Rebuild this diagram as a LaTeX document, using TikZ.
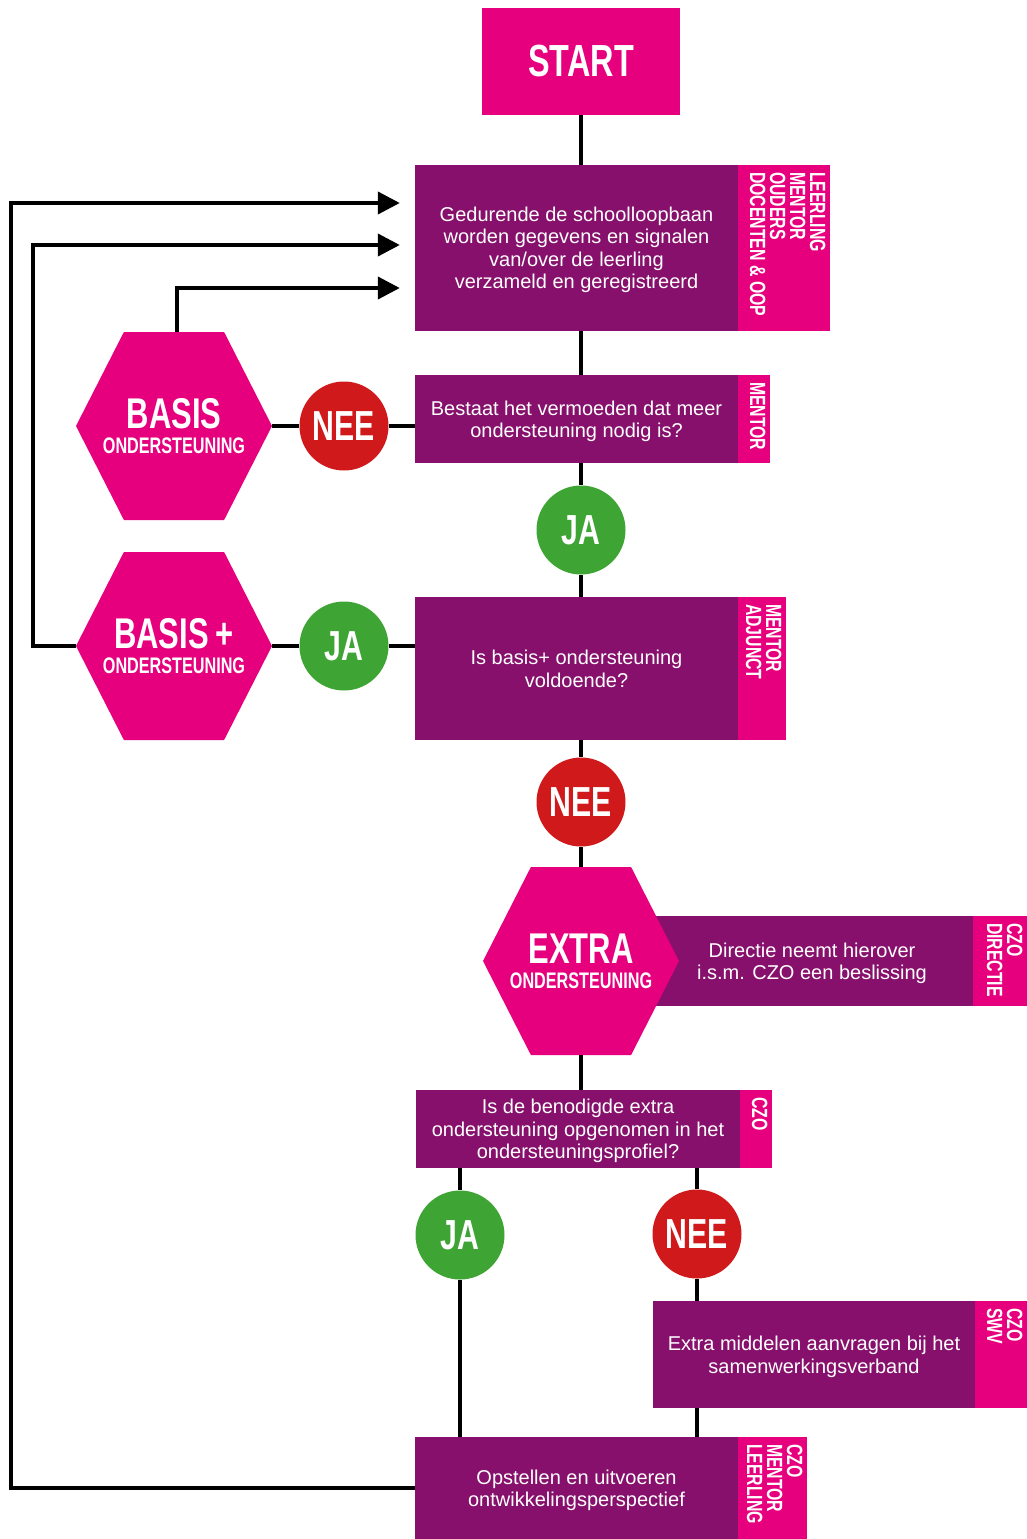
\documentclass[tikz,border=0pt]{standalone}
\usepackage{fontspec}
\usetikzlibrary{arrows.meta,shapes.symbols,calc}
\newfontfamily\bodyfont{Liberation Sans}
\newfontfamily\condfont{Liberation Sans}[FakeStretch=0.72]
\definecolor{rose}{HTML}{E6007E}
\definecolor{plum}{HTML}{86106C}
\definecolor{alarmred}{HTML}{D0191B}
\definecolor{leafgreen}{HTML}{3EA535}

\begin{document}
\begin{tikzpicture}[
  x=1pt,y=-1pt,
  block/.style={fill=plum,text=white,inner sep=0pt,align=center,text depth=0pt,
    font=\bodyfont\fontsize{20}{22.5}\selectfont},
  tab/.style={fill=rose,inner sep=0pt,anchor=north west},
  who/.style={text=white,inner sep=0pt,align=left,rotate=-90,anchor=north west,
    font=\condfont\bfseries\fontsize{22}{20}\selectfont},
  startbox/.style={fill=rose,text=white,inner sep=0pt,
    font=\condfont\bfseries\fontsize{45}{45}\selectfont},
  hexa/.style={signal,signal to=east and west,signal pointer angle=126,
    fill=rose,inner sep=0pt,minimum width=196pt,minimum height=188pt},
  hexlabel/.style={text=white,inner sep=0pt,align=center,
    font=\condfont\bfseries\fontsize{22.5}{25}\selectfont},
  answer/.style={circle,minimum size=89pt,inner sep=0pt,text=white,
    font=\condfont\bfseries\fontsize{42}{42}\selectfont},
  yes/.style={answer,fill=leafgreen},
  no/.style={answer,fill=alarmred},
  line/.style={line width=4pt},
  to/.style={line,-{Triangle[length=22pt,width=22pt]}}]

  \useasboundingbox (0,0) rectangle (1027,1539);

  % Main column of steps
  \node[startbox,minimum width=198pt,minimum height=107pt] (Start) at (581,61.5) {START};
  \node[block,minimum width=323pt,minimum height=166pt] (Collect) at (576.5,248)
    {Gedurende de schoolloopbaan\\worden gegevens en signalen\\van/over de leerling\\verzameld en geregistreerd};
  \node[block,minimum width=323pt,minimum height=88pt] (Suspect) at (576.5,419)
    {Bestaat het vermoeden dat meer\\ondersteuning nodig is?};
  \node[block,minimum width=323pt,minimum height=143pt] (Enough) at (576.5,668.5)
    {Is basis+ ondersteuning\\voldoende?};
  \node[block,minimum width=322pt,minimum height=90pt] (Decide) at (812,961)
    {Directie neemt hierover\\i.s.m. CZO een beslissing};
  \node[block,minimum width=324pt,minimum height=78pt] (Profile) at (578,1129)
    {Is de benodigde extra\\ondersteuning opgenomen in het\\ondersteuningsprofiel?};
  \node[block,minimum width=322pt,minimum height=107pt] (Apply) at (814,1354.5)
    {Extra middelen aanvragen bij het\\samenwerkingsverband};
  \node[block,minimum width=323pt,minimum height=102pt] (Plan) at (576.5,1488)
    {Opstellen en uitvoeren\\ontwikkelingsperspectief};

  % Who is involved
  \node[tab,minimum width=92pt,minimum height=166pt] (CollectTab) at (Collect.north east) {};
  \node[who] (CollectWho) at ($(CollectTab.north east)+(-5,7)$) {LEERLING\\MENTOR\\OUDERS\\DOCENTEN \& OOP};
  \node[tab,minimum width=32pt,minimum height=88pt] (SuspectTab) at (Suspect.north east) {};
  \node[who] (SuspectWho) at ($(SuspectTab.north east)+(-5,7)$) {MENTOR};
  \node[tab,minimum width=48pt,minimum height=143pt] (EnoughTab) at (Enough.north east) {};
  \node[who] (EnoughWho) at ($(EnoughTab.north east)+(-5,7)$) {MENTOR\\ADJUNCT};
  \node[tab,minimum width=54pt,minimum height=90pt] (DecideTab) at (Decide.north east) {};
  \node[who] (DecideWho) at ($(DecideTab.north east)+(-5,7)$) {CZO\\DIRECTIE};
  \node[tab,minimum width=32pt,minimum height=78pt] (ProfileTab) at (Profile.north east) {};
  \node[who] (ProfileWho) at ($(ProfileTab.north east)+(-5,7)$) {CZO};
  \node[tab,minimum width=52pt,minimum height=107pt] (ApplyTab) at (Apply.north east) {};
  \node[who] (ApplyWho) at ($(ApplyTab.north east)+(-5,7)$) {CZO\\SWV};
  \node[tab,minimum width=69pt,minimum height=102pt] (PlanTab) at (Plan.north east) {};
  \node[who] (PlanWho) at ($(PlanTab.north east)+(-5,7)$) {CZO\\MENTOR\\LEERLING};

  % Levels of support
  \node[hexa,label={[hexlabel]center:{\fontsize{43}{25}\selectfont BASIS}\\ONDERSTEUNING}] (Basis) at (174,426) {};
  \node[hexa,label={[hexlabel]center:{\fontsize{43}{25}\selectfont BASIS\,+}\\ONDERSTEUNING}] (BasisPlus) at (174,646) {};
  \node[hexa,label={[hexlabel]center:{\fontsize{43}{25}\selectfont EXTRA}\\ONDERSTEUNING}] (Extra) at (581,961) {};

  % Answers
  \node[no] (Nee1) at (344,426) {NEE};
  \node[yes] (Ja1) at (581,530) {JA};
  \node[yes] (Ja2) at (344,646) {JA};
  \node[no] (Nee2) at (581,802) {NEE};
  \node[yes] (Ja3) at (460,1235) {JA};
  \node[no] (Nee3) at (697,1234) {NEE};

  % Connectors
  \draw[line] (Start) -- (Start |- Collect.north);
  \draw[line] (Collect.south -| Start) -- (Suspect.north -| Start);
  \draw[line] (Suspect.south -| Start) -- (Ja1) -- (Ja1 |- Enough.north);
  \draw[line] (Basis) -- (Nee1) -- (Nee1 -| Suspect.west);
  \draw[line] (BasisPlus) -- (Ja2) -- (Ja2 -| Enough.west);
  \draw[line] (Enough.south -| Start) -- (Nee2) -- (Extra);
  \draw[line] (Extra) -- (Extra |- Profile.north);
  \draw[line] (Profile.south -| Ja3) -- (Ja3) -- (Ja3 |- Plan.north);
  \draw[line] (Profile.south -| Nee3) -- (Nee3) -- (Nee3 |- Apply.north);
  \draw[line] (Apply.south -| Nee3) -- (Nee3 |- Plan.north);

  % Back to the start of the loop
  \draw[to] (Plan.west) -- ++(-404,0) |- ($(Collect.west)+(-15,-45)$);
  \draw[to] (BasisPlus.west) -- ++(-43,0) |- ($(Collect.west)+(-15,-3)$);
  \draw[to] ($(Basis.north)+(3,0)$) |- ($(Collect.west)+(-15,40)$);
\end{tikzpicture}
\end{document}
